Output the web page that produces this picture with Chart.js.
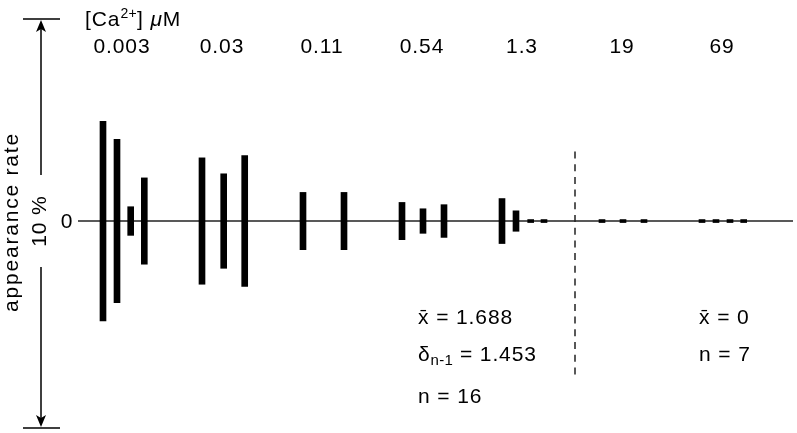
<!DOCTYPE html>
<html><head><meta charset="utf-8">
<script src="https://cdn.jsdelivr.net/npm/chart.js@4"></script>
<style>html,body{margin:0;padding:0;background:#fff}</style>
</head><body>
<canvas id="c" width="797" height="433"></canvas>
<script>
// Calcium concentration groups (µM) and their position on the x axis
const concentrations = ['0.003', '0.03', '0.11', '0.54', '1.3', '19', '69'];
const concentrationPos = [0, 1, 2, 3, 4, 5, 6];
// Individual trials: x position (group units) and appearance rate (%)
const trialX = [-0.19, -0.05, 0.087, 0.223, 0.80, 1.017, 1.227, 1.81, 2.22, 2.80, 3.01, 3.22,
                3.80, 3.94, 4.087, 4.22, 4.80, 5.01, 5.22, 5.80, 5.94, 6.08, 6.217];
const appearanceRate = [4.88, 3.99, 0.70, 2.11, 3.09, 2.31, 3.20, 1.40, 1.40, 0.91, 0.60, 0.80,
                        1.10, 0.50, 0, 0, 0, 0, 0, 0, 0, 0, 0];
// Divider between the low and high concentration groups
const dividerX = 4.53;
const dividerRange = [1.70, -3.77];
// Scale bar (appearance rate, %)
const rateMax = 4.94;
const rateMin = -5.06;
// Statistics annotations
const leftStats = { mean: '1.688', sd: '1.453', n: '16' };
const rightStats = { mean: '0', n: '7' };

const FONT = '"Liberation Sans", Arial, Helvetica, sans-serif';

function txt(ctx, s, x, y, size, opts) {
  opts = opts || {};
  ctx.font = (opts.italic ? 'italic ' : '') + size + 'px ' + FONT;
  ctx.textAlign = opts.align || 'left';
  ctx.textBaseline = opts.baseline || 'alphabetic';
  try { ctx.letterSpacing = (opts.ls != null ? opts.ls : 0.9) + 'px'; } catch (e) {}
  ctx.fillStyle = '#000';
  ctx.fillText(s, x, y);
  return ctx.measureText(s).width;
}

const decor = {
  id: 'decor',
  beforeDatasetsDraw(chart) {
    const { ctx, chartArea: a, scales: { y } } = chart;
    const y0 = y.getPixelForValue(0);
    ctx.save();
    ctx.strokeStyle = '#222';
    ctx.lineWidth = 1.6;
    ctx.beginPath();
    ctx.moveTo(a.left, y0);
    ctx.lineTo(a.right, y0);
    ctx.stroke();
    ctx.restore();
  },
  afterDraw(chart) {
    const { ctx, scales: { x, y } } = chart;
    const y0 = y.getPixelForValue(0);
    ctx.save();
    // group labels
    concentrations.forEach((c, i) => {
      txt(ctx, c, x.getPixelForValue(concentrationPos[i]), 53, 21, { align: 'center' });
    });
    // [Ca2+] µM title
    let cx = 85;
    cx += txt(ctx, '[Ca', cx, 26, 21);
    cx += txt(ctx, '2+', cx, 18, 14, { ls: 0.3 });
    cx += txt(ctx, '] ', cx, 26, 21);
    cx += txt(ctx, 'μ', cx, 26, 21, { italic: true });
    txt(ctx, 'M', cx, 26, 21);

    // divider
    const dx = x.getPixelForValue(dividerX);
    ctx.strokeStyle = '#222';
    ctx.lineWidth = 1.5;
    ctx.setLineDash([7, 5.7]);
    ctx.beginPath();
    ctx.moveTo(dx, y.getPixelForValue(dividerRange[0]));
    ctx.lineTo(dx, y.getPixelForValue(dividerRange[1]));
    ctx.stroke();
    ctx.setLineDash([]);

    // scale arrow
    const ax = 41;
    const yt = y.getPixelForValue(rateMax);
    const yb = y.getPixelForValue(rateMin);
    ctx.strokeStyle = '#000';
    ctx.lineWidth = 1.5;
    ctx.beginPath();
    ctx.moveTo(23, yt); ctx.lineTo(60, yt);
    ctx.moveTo(23, yb); ctx.lineTo(60, yb);
    ctx.moveTo(ax, yt + 10); ctx.lineTo(ax, y0 - 46);
    ctx.moveTo(ax, y0 + 46); ctx.lineTo(ax, yb - 10);
    ctx.stroke();
    ctx.fillStyle = '#000';
    ctx.beginPath();
    ctx.moveTo(ax, yt + 1); ctx.lineTo(ax - 5, yt + 13); ctx.lineTo(ax, yt + 10); ctx.lineTo(ax + 5, yt + 13); ctx.closePath();
    ctx.moveTo(ax, yb - 1); ctx.lineTo(ax - 5, yb - 13); ctx.lineTo(ax, yb - 10); ctx.lineTo(ax + 5, yb - 13); ctx.closePath();
    ctx.fill();

    // axis texts
    txt(ctx, '0', 67, y0 + 7, 21, { align: 'center' });
    ctx.save();
    ctx.translate(40, y0);
    ctx.rotate(-Math.PI / 2);
    txt(ctx, '10 %', 0, 0, 21, { align: 'center', baseline: 'middle' });
    ctx.restore();
    ctx.save();
    ctx.translate(12, y0 + 1);
    ctx.rotate(-Math.PI / 2);
    txt(ctx, 'appearance rate', 0, 0, 21, { align: 'center', baseline: 'middle', ls: 1.8 });
    ctx.restore();

    // statistics
    let sx = 418;
    txt(ctx, 'x\u0304 = ' + leftStats.mean, sx, 324, 21);
    let w = txt(ctx, 'δ', sx, 361, 21);
    w += txt(ctx, 'n-1', sx + w, 365, 15, { ls: 0.3 });
    txt(ctx, ' = ' + leftStats.sd, sx + w, 361, 21);
    txt(ctx, 'n = ' + leftStats.n, sx, 403, 21);
    sx = 699;
    txt(ctx, 'x\u0304 = ' + rightStats.mean, sx, 324, 21);
    txt(ctx, 'n = ' + rightStats.n, sx, 361, 21);
    ctx.restore();
  }
};

new Chart(document.getElementById('c'), {
  type: 'bar',
  data: {
    datasets: [{
      data: trialX.map((tx, i) => ({ x: tx, y: [-appearanceRate[i] / 2, appearanceRate[i] / 2] })),
      backgroundColor: '#000',
      borderWidth: 0,
      barThickness: 6,
      minBarLength: 3,
      grouped: false
    }]
  },
  options: {
    responsive: false,
    animation: false,
    layout: { padding: { left: 78, right: 4, top: 19, bottom: 5 } },
    plugins: { legend: { display: false }, tooltip: { enabled: false } },
    scales: {
      x: { type: 'linear', min: -0.44, max: 6.71, offset: false, display: false },
      y: { min: rateMin, max: rateMax, display: false }
    }
  },
  plugins: [decor]
});
</script>
</body></html>
